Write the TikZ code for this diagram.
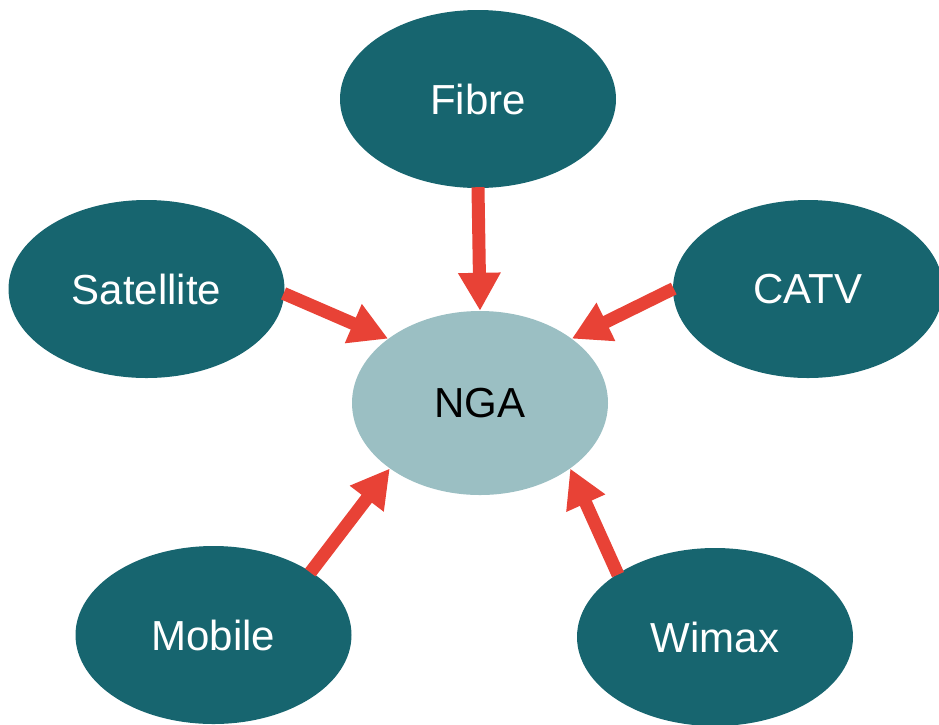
\documentclass[tikz,border=0pt]{standalone}
\usepackage{fontspec}
\setmainfont{Liberation Sans}
\usetikzlibrary{shapes.geometric,arrows.meta}
\definecolor{teal1}{HTML}{17656F}
\definecolor{ngacol}{HTML}{9BBFC3}
\definecolor{arr}{HTML}{E84236}
\begin{document}
\begin{tikzpicture}[x=1pt,y=-1pt,
  src/.style={ellipse,fill=teal1,text=white,inner sep=0pt,minimum width=276pt,minimum height=178pt,font=\fontsize{42}{48}\selectfont},
  hub/.style={ellipse,fill=ngacol,text=black,inner sep=0pt,minimum width=256pt,minimum height=184pt,font=\fontsize{42}{48}\selectfont},
  conn/.style={draw=arr,line width=13pt,-{Triangle[length=38pt,width=40pt]},shorten <=-1pt}]
\useasboundingbox (0,0) rectangle (939,724);
\node[hub] (nga) at (480,403) {NGA};
\node[src] (fib) at (478,99) {Fibre};
\node[src] (sat) at (146.5,289) {Satellite};
\node[src, minimum width=270pt] (catv) at (808,289) {CATV};
\node[src] (mob) at (213.5,635) {Mobile};
\node[src] (wim) at (715,637) {Wimax};
\draw[conn] (fib.south) -- (nga.north);
\draw[conn] (sat.-2) -- (nga.145);
\draw[conn] (catv.west) -- (nga.35);
\draw[conn] (mob.33) -- (nga.216);
\draw[conn] (wim.147) -- (nga.324);
\end{tikzpicture}
\end{document}
